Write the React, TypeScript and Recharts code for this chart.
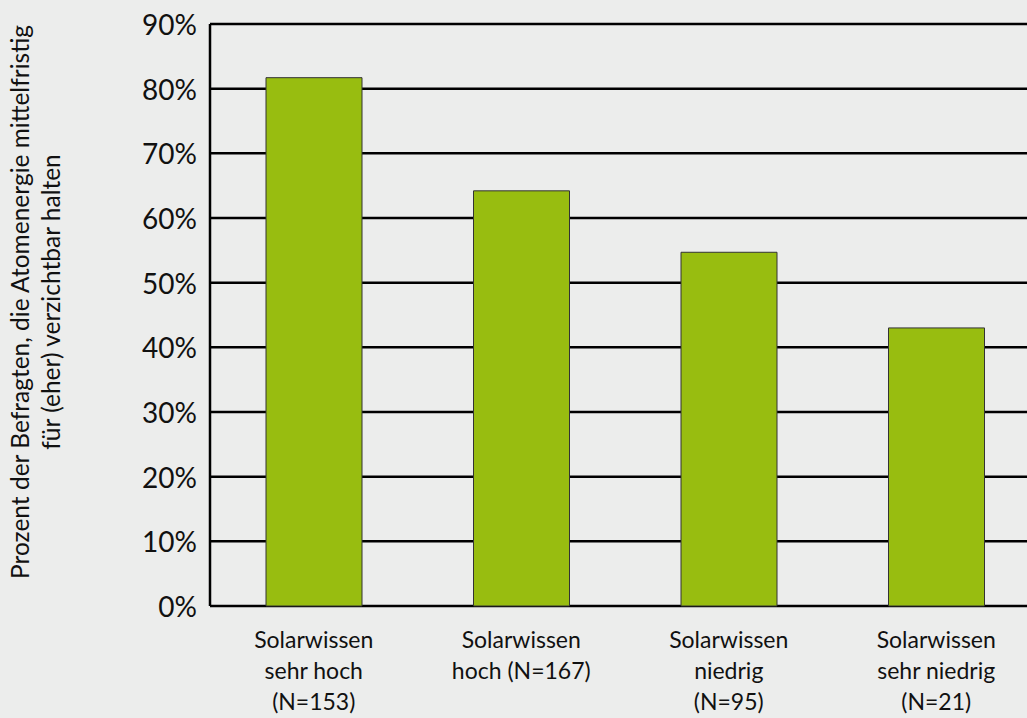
import React from 'react';
import { BarChart, Bar, XAxis, YAxis, CartesianGrid } from 'recharts';

const categories = [
  'Solarwissen\nsehr hoch\n(N=153)',
  'Solarwissen\nhoch (N=167)',
  'Solarwissen\nniedrig\n(N=95)',
  'Solarwissen\nsehr niedrig\n(N=21)',
];
const values = [81.7, 64.2, 54.7, 43.0];
const yTicks = [0, 10, 20, 30, 40, 50, 60, 70, 80, 90];
const yLabelLines = [
  'Prozent der Befragten, die Atomenergie mittelfristig',
  'für (eher) verzichtbar halten',
];

const data = categories.map((c, i) => ({ name: c, value: values[i] }));

const FONT = 'Lato, "Open Sans", sans-serif';

const YTick = (props: any) => {
  const { x, y, payload } = props;
  return (
    <text x={x - 5} y={y} dy={11} textAnchor="end" fontSize={28} fill="#111" fontFamily={FONT}>
      {payload.value}%
    </text>
  );
};

const XTick = (props: any) => {
  const { x, y, payload } = props;
  const lines = String(payload.value).split('\n');
  return (
    <g>
      {lines.map((l: string, i: number) => (
        <text key={i} x={x} y={y + 34 + i * 31} textAnchor="middle" fontSize={23} fill="#111" fontFamily={FONT}>
          {l}
        </text>
      ))}
    </g>
  );
};

const YLabel = () => (
  <g>
    {yLabelLines.map((l, i) => (
      <text
        key={i}
        x={0}
        y={0}
        transform={`translate(${29 + i * 31}, 302) rotate(-90)`}
        textAnchor="middle"
        fontSize={24.5}
        fill="#111"
        fontFamily={FONT}
      >
        {l}
      </text>
    ))}
  </g>
);

export default function App() {
  return (
    <div style={{ position: 'absolute', left: 0, top: 0, width: 1027, height: 718, overflow: 'hidden', background: '#ecedec' }}>
      <BarChart
        width={1040}
        height={718}
        data={data}
        margin={{ top: 24, right: 0, bottom: 0, left: 0 }}
        barSize={96}
      >
        <CartesianGrid horizontal vertical={false} stroke="#000" strokeWidth={2.5} strokeOpacity={1} />
        <XAxis
          dataKey="name"
          height={112}
          axisLine={false}
          tickLine={false}
          tick={<XTick />}
          interval={0}
        />
        <YAxis
          width={210}
          domain={[0, 90]}
          ticks={yTicks}
          axisLine={{ stroke: '#000', strokeWidth: 2.5 }}
          tickLine={false}
          tick={<YTick />}
          interval={0}
          label={{ content: () => <YLabel /> }}
        />
        <Bar dataKey="value" fill="#98bd10" stroke="#333" strokeWidth={1} isAnimationActive={false} />
      </BarChart>
    </div>
  );
}
